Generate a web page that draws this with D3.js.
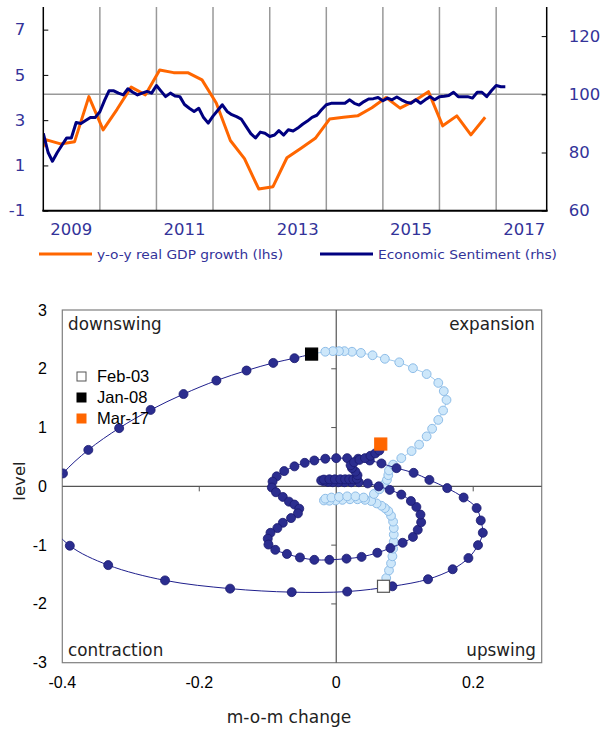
<!DOCTYPE html>
<html><head><meta charset="utf-8">
<script src="https://cdn.jsdelivr.net/npm/d3@7"></script>
<style>body{margin:0;background:#fff}svg{display:block}</style>
</head><body>
<script>
// ---------------- DATA ----------------
// Top chart: Economic Sentiment (monthly, from Jan 2009), rhs
const sentimentStart = "2009-01";
const sentimentValues = [86.6,80,77,80,82.5,85,85,90.3,90,91,92,92,
94,98,101.2,101.2,100.4,99.8,101.9,100.7,99.8,100.4,101,100.4,
103,101,99.2,100.4,99.4,99.2,96.5,95.2,94.1,95.2,92,90.1,
92.5,94.5,96.4,94.1,93,92.3,91.5,89,86.5,85,87,86.6,
85.5,86,87.5,86,87.8,87.4,88.4,89.7,90.8,92.1,92.8,94.7,
96.4,96.9,96.9,96.9,96.9,98.1,96.9,96.3,97.5,98.4,98.5,98.9,
97.8,98.7,98.1,99.1,98.1,97.3,96.9,98.1,96.9,98.1,99.2,98.1,
99.2,99.3,99.6,100.7,99.2,99.2,99.2,98.7,100.7,100.7,99.2,101.2,
103.0,102.6,102.6];
// y-o-y real GDP growth (quarterly), lhs
const gdpQuarters = ["2008Q4","2009Q1","2009Q2","2009Q3","2009Q4","2010Q1","2010Q2","2010Q3","2010Q4",
"2011Q1","2011Q2","2011Q3","2011Q4","2012Q1","2012Q2","2012Q3","2012Q4","2013Q1","2013Q2","2013Q3","2013Q4",
"2014Q1","2014Q2","2014Q3","2014Q4","2015Q1","2015Q2","2015Q3","2015Q4","2016Q1","2016Q2","2016Q3","2016Q4"];
const gdpValues = [0.9,2.13,1.95,2.05,4.04,2.57,3.48,4.46,4.12,5.22,5.10,5.10,4.78,3.76,2.1,1.3,-0.04,0.06,1.34,1.76,2.2,
3.05,3.13,3.19,3.55,4.0,3.53,3.85,4.26,2.75,3.19,2.35,3.13];
const leftTicks = [-1,1,3,5,7];
const rightTicks = [60,80,100,120];
const yearLabels = [2009,2011,2013,2015,2017];
const gridYears = [2010,2011,2012,2013,2014,2015,2016,2017];

// Bottom chart: business cycle clock (m-o-m change, level)
const preX = [0.069,0.073,0.077,0.080,0.082,0.083,0.084,0.084,0.084,0.083,0.080,0.076,0.071,0.066,0.059,0.051,0.042,0.031,0.020,0.009,-0.001,-0.010,-0.018,
-0.016,-0.007,0.004,0.016,0.028,0.040,0.055,0.063,0.070,0.074,0.076,0.077,0.083,0.095,0.110,0.121,0.132,0.140,0.149,0.156,0.161,0.157,0.149,0.132,0.112,0.092,0.071,0.053,0.036,0.023,0.012,0.004,-0.005,-0.016,-0.036];
const preY = [-1.70,-1.56,-1.43,-1.31,-1.19,-1.06,-0.94,-0.82,-0.71,-0.60,-0.50,-0.42,-0.37,-0.33,-0.29,-0.25,-0.23,-0.22,-0.22,-0.23,-0.24,-0.245,-0.24,
-0.21,-0.19,-0.18,-0.17,-0.17,-0.19,-0.13,-0.05,0.03,0.11,0.19,0.27,0.37,0.48,0.60,0.71,0.85,0.98,1.13,1.29,1.47,1.62,1.76,1.91,2.01,2.11,2.17,2.23,2.27,2.29,2.30,2.30,2.30,2.29,2.25];
const postX = [-0.036,-0.061,-0.092,-0.131,-0.175,-0.223,-0.271,-0.317,-0.362,-0.399,-0.425,-0.418,-0.389,-0.333,-0.250,-0.155,-0.065,0.016,0.082,0.134,0.170,0.193,0.207,0.214,0.211,0.205,0.186,0.162,0.136,0.113,0.088,0.066,
0.049,0.032,0.016,0.000,-0.016,-0.032,-0.046,-0.061,-0.076,-0.087,-0.093,-0.094,-0.088,-0.078,-0.069,-0.061,-0.054,-0.056,-0.066,-0.078,-0.086,-0.096,-0.100,-0.099,-0.089,-0.072,-0.053,-0.032,-0.010,
0.015,0.037,0.060,0.079,0.097,0.112,0.119,0.124,0.123,0.117,0.109,0.095,0.078,0.062,0.046,
0.033,0.022,0.012,0.003,-0.005,-0.012,-0.018,-0.022,-0.018,-0.010,-0.002,0.006,0.013,0.019,0.025,0.030,
0.031,0.028,0.023,0.021,0.026,0.034,0.042,0.050,0.057,0.063,0.065];
const postY = [2.25,2.18,2.10,1.97,1.80,1.57,1.30,0.99,0.62,0.22,-0.20,-0.62,-1.01,-1.34,-1.60,-1.74,-1.80,-1.79,-1.70,-1.58,-1.41,-1.22,-1.00,-0.79,-0.58,-0.37,-0.19,-0.03,0.11,0.23,0.31,0.39,
0.44,0.47,0.48,0.48,0.47,0.44,0.40,0.34,0.26,0.17,0.08,-0.02,-0.10,-0.18,-0.26,-0.31,-0.38,-0.46,-0.54,-0.62,-0.71,-0.79,-0.89,-0.99,-1.08,-1.15,-1.21,-1.25,-1.25,
-1.23,-1.20,-1.13,-1.05,-0.96,-0.86,-0.74,-0.61,-0.48,-0.35,-0.25,-0.14,-0.06,0.00,0.05,
0.07,0.07,0.07,0.07,0.07,0.075,0.085,0.10,0.115,0.12,0.12,0.12,0.12,0.12,0.12,0.13,
0.19,0.25,0.31,0.36,0.41,0.45,0.48,0.52,0.56,0.61,0.72];
const markerLabels = ["Feb-03","Jan-08","Mar-17"];
const quadrantLabels = ["downswing","expansion","contraction","upswing"];
const bxTicks = [-0.4,-0.2,0,0.2];
const byTicks = [-3,-2,-1,0,1,2,3];

// ---------------- DRAW ----------------
const svg = d3.select("body").append("svg").attr("width",603).attr("height",731);
const BLUE_TXT = "#333399", NAVY = "#000080", ORANGE = "#ff6600";
const gothic = "DejaVu Sans", arial = "Liberation Sans, Arial, sans-serif";
const fmt = d => String(d);

// ---- top chart
const T = {l:43.3, r:546.7, t:7, b:210.7};
const xT = d3.scaleTime().domain([new Date(2009,0,1), new Date(2017,10,23)]).range([T.l,T.r]);
const yL = d3.scaleLinear().domain([-1,8]).range([T.b,T.t]);
const yR = d3.scaleLinear().domain([60,130]).range([T.b,T.t]);
const gTop = svg.append("g");
gTop.append("clipPath").attr("id","clipT").append("rect").attr("x",T.l).attr("y",T.t).attr("width",T.r-T.l).attr("height",T.b-T.t);

gTop.selectAll(".vg").data(gridYears).join("line")
  .attr("x1",d=>xT(new Date(d,0,1))).attr("x2",d=>xT(new Date(d,0,1)))
  .attr("y1",T.t).attr("y2",T.b).attr("stroke","#999").attr("stroke-width",1.5);
gTop.append("line").attr("x1",T.l).attr("x2",T.r).attr("y1",yR(100)).attr("y2",yR(100))
  .attr("stroke","#999").attr("stroke-width",1.5);

const [sy, sm] = sentimentStart.split("-").map(Number);
const sentData = sentimentValues.map((v,i)=>({d:new Date(sy, sm-1+i, 1), v}));
const gdpData = gdpQuarters.map((q,i)=>{const y=+q.slice(0,4), qq=+q.slice(5); return {d:new Date(y,(qq-1)*3,22), v:gdpValues[i]};});

gTop.append("path").datum(gdpData).attr("clip-path","url(#clipT)")
  .attr("d", d3.line().x(d=>xT(d.d)).y(d=>yL(d.v)))
  .attr("fill","none").attr("stroke",ORANGE).attr("stroke-width",3).attr("stroke-linejoin","round");
gTop.append("path").datum(sentData).attr("clip-path","url(#clipT)")
  .attr("d", d3.line().x(d=>xT(d.d)).y(d=>yR(d.v)))
  .attr("fill","none").attr("stroke",NAVY).attr("stroke-width",3).attr("stroke-linejoin","round");

// axes
const axL = gTop.append("g").attr("transform",`translate(${T.l},0)`)
  .call(d3.axisLeft(yL).tickValues(leftTicks).tickFormat(fmt).tickSize(-5).tickPadding(18));
const axR = gTop.append("g").attr("transform",`translate(${T.r},0)`)
  .call(d3.axisRight(yR).tickValues(rightTicks).tickFormat(fmt).tickSize(-5).tickPadding(22));
[axL,axR].forEach(a=>{
  a.select(".domain").attr("stroke","#000").attr("stroke-width",1.5).attr("d",`M0,${T.t}V${T.b}`);
  a.selectAll("line").attr("stroke","#000");
  a.selectAll("text").attr("fill",BLUE_TXT).attr("font-family",gothic).attr("font-size",16.5);
});
gTop.append("line").attr("x1",T.l-1).attr("x2",T.r+1).attr("y1",T.b).attr("y2",T.b).attr("stroke","#000").attr("stroke-width",2);
gTop.selectAll(".yl").data(yearLabels).join("text")
  .attr("x",d=>xT(new Date(d,6,1))).attr("y",235).attr("text-anchor","middle")
  .attr("fill",BLUE_TXT).attr("font-family",gothic).attr("font-size",16.5).text(fmt);

// legend top
const legT = [{c:ORANGE,x:39,t:"y-o-y real GDP growth (lhs)",w:186},{c:NAVY,x:320,t:"Economic Sentiment (rhs)",w:179}];
legT.forEach(l=>{
  gTop.append("line").attr("x1",l.x).attr("x2",l.x+53).attr("y1",254).attr("y2",254).attr("stroke",l.c).attr("stroke-width",3);
  gTop.append("text").attr("x",l.x+58).attr("y",259).attr("fill",BLUE_TXT).attr("font-family",gothic)
    .attr("font-size",13).attr("textLength",l.w).attr("lengthAdjust","spacingAndGlyphs").text(l.t);
});

// ---- bottom chart
const B = {l:62.3, r:541.7, t:310, b:662.7};
const xB = d3.scaleLinear().domain([-0.4,0.3]).range([B.l,B.r]);
const yB = d3.scaleLinear().domain([-3,3]).range([B.b,B.t]);
const bot = svg.append("g");
bot.append("clipPath").attr("id","clipB").append("rect").attr("x",B.l).attr("y",B.t).attr("width",B.r-B.l).attr("height",B.b-B.t);
bot.append("rect").attr("x",B.l).attr("y",B.t).attr("width",B.r-B.l).attr("height",B.b-B.t)
  .attr("fill","none").attr("stroke","#7f7f7f").attr("stroke-width",1.2);
bot.append("line").attr("x1",B.l).attr("x2",B.r).attr("y1",yB(0)).attr("y2",yB(0)).attr("stroke","#555").attr("stroke-width",1.2);
bot.append("line").attr("x1",xB(0)).attr("x2",xB(0)).attr("y1",B.t).attr("y2",B.b).attr("stroke","#555").attr("stroke-width",1.2);
bot.selectAll(".xt").data(bxTicks.filter(d=>d!==0 && d!==-0.4)).join("line")
  .attr("x1",d=>xB(d)).attr("x2",d=>xB(d)).attr("y1",yB(0)).attr("y2",yB(0)+5).attr("stroke","#555");
bot.selectAll(".ytk").data(byTicks.filter(d=>d!==0 && Math.abs(d)<3)).join("line")
  .attr("x1",xB(0)-5).attr("x2",xB(0)).attr("y1",d=>yB(d)).attr("y2",d=>yB(d)).attr("stroke","#555");
bot.selectAll(".ylab").data(byTicks).join("text")
  .attr("x",47).attr("y",d=>yB(d)+5.5).attr("text-anchor","end").attr("font-family",arial).attr("font-size",16).text(fmt);
bot.selectAll(".xlab").data(bxTicks).join("text")
  .attr("x",d=>xB(d)).attr("y",688).attr("text-anchor","middle").attr("font-family",arial).attr("font-size",16).text(fmt);
bot.append("text").attr("x",289).attr("y",723).attr("text-anchor","middle").attr("font-family",gothic).attr("font-size",17).attr("fill","#222").text("m-o-m change");
bot.append("text").attr("transform","translate(25,481) rotate(-90)").attr("text-anchor","middle").attr("font-family",gothic).attr("font-size",16.5).attr("fill","#222").text("level");

// quadrant labels
const qpos = [[68,330,"start"],[535,330,"end"],[68,656,"start"],[536,656,"end"]];
bot.selectAll(".q").data(quadrantLabels).join("text")
  .attr("x",(d,i)=>qpos[i][0]).attr("y",(d,i)=>qpos[i][1]).attr("text-anchor",(d,i)=>qpos[i][2])
  .attr("font-family",gothic).attr("font-size",16.8).attr("fill","#222").text(d=>d);

const pre = preX.map((x,i)=>({x,y:preY[i]}));
const post = postX.map((x,i)=>({x,y:postY[i]}));
const lineB = d3.line().x(d=>xB(d.x)).y(d=>yB(d.y)).curve(d3.curveCatmullRom.alpha(0.5));
const plotG = bot.append("g").attr("clip-path","url(#clipB)");
plotG.append("path").datum(pre).attr("d",lineB).attr("fill","none").attr("stroke","#9dc8ec").attr("stroke-width",1);
plotG.selectAll(".pc").data(pre).join("circle").attr("cx",d=>xB(d.x)).attr("cy",d=>yB(d.y)).attr("r",4.4)
  .attr("fill","#cde7fa").attr("stroke","#8ebde8").attr("stroke-width",1);
plotG.append("path").datum(post).attr("d",lineB).attr("fill","none").attr("stroke","#1f1f8c").attr("stroke-width",1);
plotG.selectAll(".nc").data(post).join("circle").attr("cx",d=>xB(d.x)).attr("cy",d=>yB(d.y)).attr("r",4.5)
  .attr("fill","#2b2d8f").attr("stroke","#1a1a70").attr("stroke-width",0.8);

// marker squares
const markers = [
  {lab:markerLabels[0], p:pre[0], fill:"#fff", stroke:"#555"},
  {lab:markerLabels[1], p:pre[pre.length-1], fill:"#000", stroke:"#000"},
  {lab:markerLabels[2], p:post[post.length-1], fill:"#ff6600", stroke:"#ff6600"}];
bot.selectAll(".mk").data(markers).join("rect")
  .attr("x",d=>xB(d.p.x)-6).attr("y",d=>yB(d.p.y)-6).attr("width",12).attr("height",12)
  .attr("fill",d=>d.fill).attr("stroke",d=>d.stroke).attr("stroke-width",1.2);

// legend bottom
markers.forEach((m,i)=>{
  bot.append("rect").attr("x",77).attr("y",372+i*21).attr("width",9).attr("height",9)
    .attr("fill",m.fill).attr("stroke",m.stroke).attr("stroke-width",1);
  bot.append("text").attr("x",97).attr("y",382+i*21).attr("font-family",arial).attr("font-size",16.5).text(m.lab);
});
</script>
</body></html>
